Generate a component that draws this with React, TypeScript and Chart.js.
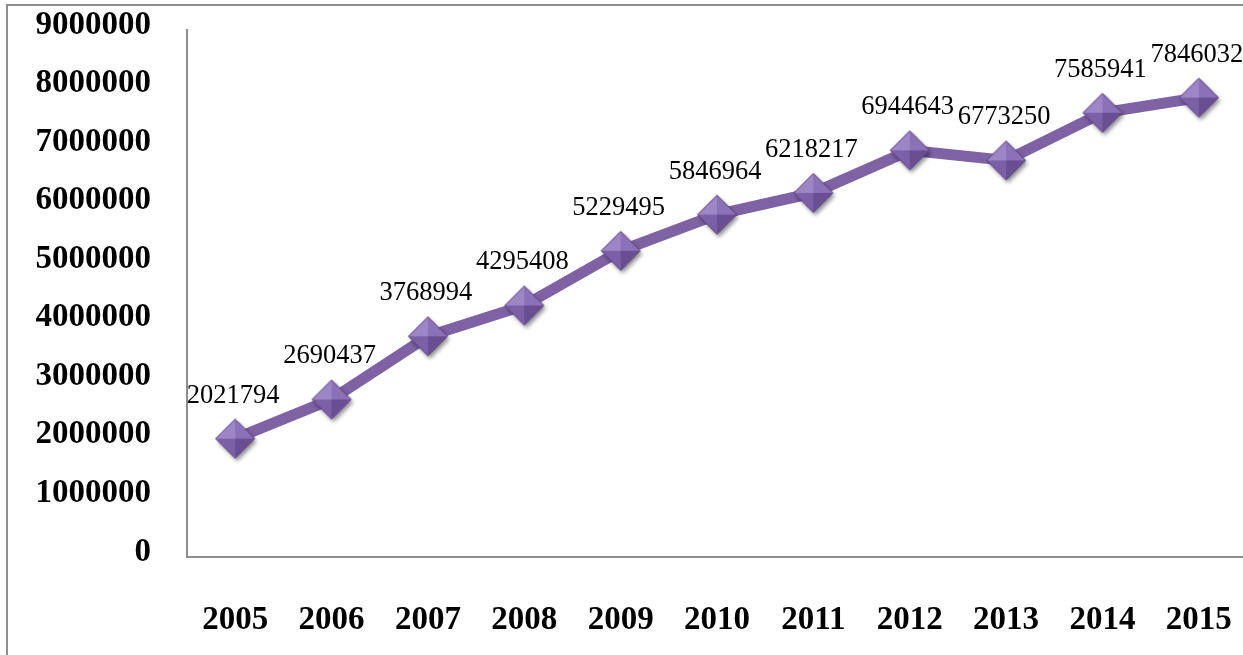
import React, { useEffect, useRef } from 'react';
import { Chart, registerables } from 'chart.js';

Chart.register(...registerables);

const years: string[] = ['2005', '2006', '2007', '2008', '2009', '2010', '2011', '2012', '2013', '2014', '2015'];
const values: number[] = [2021794, 2690437, 3768994, 4295408, 5229495, 5846964, 6218217, 6944643, 6773250, 7585941, 7846032];
const yMax = 9000000;
const yStep = 1000000;

const FONT = '"Liberation Serif", "Times New Roman", serif';

function makeDiamond(): HTMLCanvasElement {
  const S = 56;
  const c = document.createElement('canvas');
  c.width = S;
  c.height = S;
  const g = c.getContext('2d')!;
  const cx = S / 2;
  const cy = S / 2;
  const R = 19.5;
  g.save();
  g.shadowColor = 'rgba(0,0,0,0.45)';
  g.shadowBlur = 4;
  g.shadowOffsetX = 2;
  g.shadowOffsetY = 3;
  g.beginPath();
  g.moveTo(cx - R, cy);
  g.lineTo(cx, cy - R);
  g.lineTo(cx + R, cy);
  g.lineTo(cx, cy + R);
  g.closePath();
  g.fillStyle = '#7458a0';
  g.fill();
  g.restore();
  const facet = (ax: number, ay: number, bx: number, by: number, col: string) => {
    g.beginPath();
    g.moveTo(ax, ay);
    g.lineTo(bx, by);
    g.lineTo(cx, cy);
    g.closePath();
    g.fillStyle = col;
    g.fill();
  };
  facet(cx - R, cy, cx, cy - R, '#9d86c6');
  facet(cx, cy - R, cx + R, cy, '#8b71b8');
  facet(cx - R, cy, cx, cy + R, '#7b5fa7');
  facet(cx + R, cy, cx, cy + R, '#6a4e94');
  g.beginPath();
  g.moveTo(cx - R, cy);
  g.lineTo(cx, cy - R);
  g.lineTo(cx + R, cy);
  g.lineTo(cx, cy + R);
  g.closePath();
  g.strokeStyle = '#5e4585';
  g.lineWidth = 1;
  g.stroke();
  return c;
}

const valueLabels = {
  id: 'valueLabels',
  afterDatasetsDraw(chart: any) {
    const ctx = chart.ctx;
    const meta = chart.getDatasetMeta(0);
    ctx.save();
    ctx.font = `26.5px ${FONT}`;
    ctx.fillStyle = '#000';
    ctx.textAlign = 'center';
    ctx.textBaseline = 'middle';
    meta.data.forEach((pt: any, i: number) => {
      ctx.fillText(String(values[i]), pt.x - 2, pt.y - 43);
    });
    ctx.restore();
  },
};

export default function App() {
  const ref = useRef<HTMLCanvasElement>(null);
  useEffect(() => {
    if (!ref.current) return;
    const diamond = makeDiamond();
    const chart = new Chart(ref.current, {
      type: 'line',
      data: {
        labels: years,
        datasets: [
          {
            data: values,
            borderColor: '#7f62a3',
            borderWidth: 11,
            pointStyle: diamond as any,
            pointRadius: 19,
            pointHoverRadius: 19,
            tension: 0,
            clip: false,
          },
        ],
      },
      options: {
        responsive: false,
        animation: false,
        events: [],
        layout: { autoPadding: false, padding: { top: 30, right: 9, left: 0, bottom: 0 } },
        plugins: { legend: { display: false }, tooltip: { enabled: false } },
        scales: {
          x: {
            offset: true,
            grid: { display: false, drawTicks: false },
            border: { display: true, color: '#8e8e8e', width: 2 },
            ticks: { color: '#000', font: { family: FONT, size: 33, weight: 'bold' }, padding: 44, maxRotation: 0, autoSkip: false },
            afterFit: (s: any) => { s.height = 98; s.paddingLeft = 0; s.paddingRight = 0; },
          },
          y: {
            min: 0,
            max: yMax,
            grid: { display: false, drawTicks: false },
            border: { display: true, color: '#8e8e8e', width: 2 },
            ticks: {
              stepSize: yStep,
              color: '#000',
              font: { family: FONT, size: 33, weight: 'bold' },
              padding: 36,
              labelOffset: -5,
              callback: (v: any) => String(v),
            },
            afterFit: (s: any) => { s.width = 187; s.paddingTop = 0; s.paddingBottom = 0; },
          },
        },
      },
      plugins: [valueLabels],
    });
    return () => chart.destroy();
  }, []);
  return (
    <div style={{ position: 'absolute', left: 0, top: 0, width: 1243, height: 655, overflow: 'hidden', background: '#fff' }}>
      <div style={{ position: 'absolute', left: 6, top: 4, width: 1300, height: 700, borderLeft: '2px solid #8e8e8e', borderTop: '2px solid #8e8e8e' }} />
      <canvas ref={ref} width={1256} height={655} style={{ position: 'absolute', left: 0, top: 0 }} />
    </div>
  );
}
